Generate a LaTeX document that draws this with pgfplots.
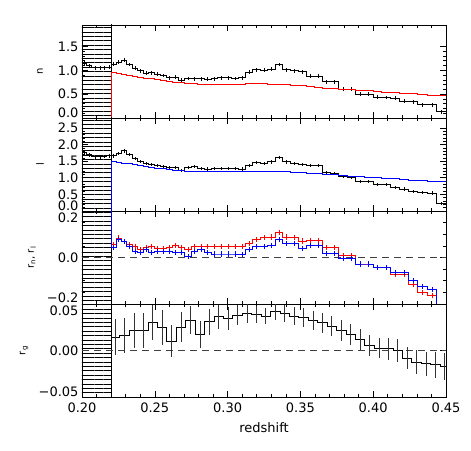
\documentclass[border=0pt]{standalone}
\usepackage{fontspec}
\setmainfont{DejaVu Sans}
\usepackage{pgfplots}
\usepackage{pgfplotstable}
\pgfplotsset{compat=1.18}
\usetikzlibrary{patterns.meta}

% edge tick labels sit a little inside the box, as in the original
\newcommand{\lift}[1]{\raisebox{0pt}[0pt][0pt]{#1}}
\newcommand{\liftmore}[1]{\raisebox{1.5pt}[0pt][0pt]{#1}}
\newcommand{\drop}[1]{\raisebox{-11.5pt}[0pt][0pt]{#1}}

% bins: lo hi | n and its model | l and its model | r_n r_l
\pgfplotstableread{
lo     hi     n    nm    l    lm    rn     rl
0.2000 0.2033 1.15 0     1.76 0     1      1
0.2033 0.2067 1.10 0     1.69 0     1      1
0.2067 0.2110 1.05 0     1.63 0     1      1
0.2110 0.2140 1.05 0     1.63 0     1      1
0.2140 0.2170 1.05 0     1.64 0     1      1
0.2170 0.2200 1.07 0     1.66 0     1      1
0.2200 0.2235 1.13 0.955 1.66 1.48  0.057  0.043
0.2235 0.2271 1.17 0.93  1.73 1.46  0.084  0.079
0.2271 0.2307 1.21 0.91  1.81 1.44  0.070  0.070
0.2307 0.2344 1.12 0.89  1.70 1.42  0.057  0.048
0.2344 0.2382 1.04 0.87  1.58 1.40  0.048  0.026
0.2382 0.2420 0.99 0.85  1.50 1.37  0.033  0.021
0.2420 0.2459 0.94 0.835 1.42 1.34  0.044  0.033
0.2459 0.2499 0.95 0.82  1.40 1.31  0.048  0.021
0.2499 0.2539 0.92 0.80  1.36 1.29  0.040  0.024
0.2539 0.2580 0.89 0.79  1.34 1.27  0.037  0.024
0.2580 0.2622 0.84 0.77  1.31 1.25  0.044  0.026
0.2622 0.2664 0.86 0.75  1.30 1.23  0.053  0.021
0.2664 0.2707 0.79 0.74  1.21 1.21  0.044  0.021
0.2707 0.2751 0.83 0.725 1.31 1.20  0.033  0.004
0.2751 0.2795 0.82 0.715 1.34 1.195 0.048  0.024
0.2795 0.2840 0.82 0.71  1.27 1.19  0.048  0.033
0.2840 0.2886 0.81 0.71  1.26 1.19  0.048  0.022
0.2886 0.2932 0.82 0.71  1.27 1.19  0.048  0.015
0.2932 0.2979 0.84 0.71  1.28 1.19  0.048  0.015
0.2979 0.3027 0.84 0.71  1.28 1.19  0.048  0.015
0.3027 0.3075 0.83 0.71  1.27 1.19  0.048  0.015
0.3075 0.3124 0.84 0.71  1.26 1.195 0.048  0.013
0.3124 0.3174 0.96 0.715 1.36 1.20  0.062  0.033
0.3174 0.3224 1.01 0.715 1.46 1.20  0.079  0.048
0.3224 0.3275 1.00 0.715 1.43 1.20  0.085  0.049
0.3275 0.3327 1.02 0.71  1.48 1.195 0.088  0.053
0.3327 0.3379 1.12 0.705 1.61 1.19  0.107  0.079
0.3379 0.3432 1.01 0.70  1.48 1.18  0.088  0.062
0.3432 0.3486 0.99 0.69  1.43 1.17  0.085  0.060
0.3486 0.3540 0.97 0.675 1.40 1.16  0.071  0.040
0.3540 0.3595 0.88 0.66  1.36 1.14  0.075  0.052
0.3595 0.3651 0.88 0.645 1.38 1.125 0.075  0.052
0.3651 0.3707 0.76 0.63  1.15 1.11  0.043  0.018
0.3707 0.3764 0.76 0.615 1.13 1.09  0.043  0.018
0.3764 0.3822 0.60 0.60  1.03 1.07  0.009  -0.005
0.3822 0.3880 0.60 0.59  1.01 1.055 0.009  -0.005
0.3880 0.3939 0.50 0.58  0.88 1.04  -0.028 -0.028
0.3939 0.3999 0.50 0.57  0.88 1.02  -0.028 -0.028
0.3999 0.4059 0.44 0.555 0.80 1.00  -0.043 -0.043
0.4059 0.4120 0.43 0.54  0.79 0.985 -0.043 -0.043
0.4120 0.4182 0.42 0.53  0.70 0.97  -0.074 -0.064
0.4182 0.4244 0.35 0.52  0.66 0.95  -0.074 -0.064
0.4244 0.4307 0.34 0.505 0.58 0.93  -0.117 -0.100
0.4307 0.4371 0.28 0.495 0.55 0.91  -0.149 -0.124
0.4371 0.4435 0.28 0.48  0.54 0.895 -0.163 -0.139
0.4435 0.4500 0.13 0.465 0.23 0.875 -0.5   -0.5
0.4500 0.4500 0.13 0.465 0.23 0.875 -0.5   -0.5
}\bins

% r_g with its errors
\pgfplotstableread{
lo     hi     v       e
0.2200 0.2260 0.0145  0.019
0.2260 0.2324 0.0163  0.019
0.2324 0.2389 0.0217  0.019
0.2389 0.2454 0.0217  0.019
0.2454 0.2519 0.0298  0.019
0.2519 0.2583 0.0244  0.019
0.2583 0.2648 0.0099  0.017
0.2648 0.2713 0.0253  0.016
0.2713 0.2777 0.0325  0.015
0.2777 0.2842 0.0172  0.014
0.2842 0.2907 0.0307  0.014
0.2907 0.2971 0.0361  0.013
0.2971 0.3036 0.0343  0.012
0.3036 0.3101 0.0379  0.011
0.3101 0.3166 0.0397  0.010
0.3166 0.3230 0.0388  0.009
0.3230 0.3295 0.0370  0.009
0.3295 0.3360 0.0415  0.009
0.3360 0.3424 0.0397  0.009
0.3424 0.3489 0.0370  0.010
0.3489 0.3554 0.0352  0.010
0.3554 0.3618 0.0325  0.010
0.3618 0.3683 0.0298  0.011
0.3683 0.3748 0.0262  0.011
0.3748 0.3813 0.0217  0.011
0.3813 0.3877 0.0172  0.011
0.3877 0.3942 0.0117  0.011
0.3942 0.4007 0.0054  0.011
0.4007 0.4071 0.0027  0.011
0.4071 0.4136 0.0018  0.012
0.4136 0.4201 0.0000  0.012
0.4201 0.4265 -0.0081 0.012
0.4265 0.4330 -0.0126 0.013
0.4330 0.4395 -0.0144 0.013
0.4395 0.4460 -0.0154 0.014
0.4460 0.4524 -0.0172 0.015
0.4524 0.4524 -0.0172 0.015
}\rg

\pgfplotsset{
  panel/.style={
    scale only axis, width=364pt, height=93pt,
    xmin=0.2, xmax=0.45,
    xtick={0.20,0.25,0.30,0.35,0.40,0.45},
    minor x tick num=4,
    xticklabels={},
    scaled y ticks=false,
    tick align=inside,
    major tick length=6pt, minor tick length=3pt,
    every tick/.style={black, line width=0.6pt},
    axis line style={line width=0.9pt},
    tick label style={font=\fontsize{13}{15}\selectfont},
    xticklabel style={yshift=-2pt},
    label style={font=\fontsize{13}{15}\selectfont},
    xlabel style={yshift=-3pt},
    every axis y label/.style={rotate=90, anchor=center},
    clip=true,
  },
  hatch/.style={draw=none, pattern={Lines[angle=0,distance=4.4pt,line width=0.8pt]}, pattern color=black, forget plot},
  hist/.style={const plot mark left, line width=0.9pt, no marks},
  edge/.style={black, line width=0.7pt, no marks},
  bars/.style={draw=none, no marks, error bars/y dir=both, error bars/error mark=none,
    error bars/error bar style={draw=#1, line width=0.7pt}},
}

\begin{document}
\begin{tikzpicture}
\path[use as bounding box] (-82pt,-53pt) rectangle (389pt,397pt);

% n
\begin{axis}[panel, at={(0,279pt)},
    ymin=0, ymax=1.95,
    ytick={0,0.5,1,1.5}, yticklabels={\lift{0.0},0.5,1.0,1.5},
    minor y tick num=4,
    ylabel={n}, ylabel style={at={(axis description cs:-0.115,0.5)}}]
\addplot[hatch] coordinates {(0.2,-1) (0.22,-1) (0.22,5) (0.2,5)} -- cycle;
\addplot[edge] coordinates {(0.22,-1) (0.22,5)};
\addplot[hist, black] table[x=lo, y=n] {\bins};
\addplot[bars=black, restrict x to domain=0.2:0.4499, error bars/y fixed=0.04]
    table[x expr={0.5*(\thisrow{lo}+\thisrow{hi})}, y=n] {\bins};
\addplot[hist, red] table[x=lo, y=nm] {\bins};
\end{axis}

% l
\begin{axis}[panel, at={(0,186pt)},
    ymin=0, ymax=2.8,
    ytick={0,0.5,1,1.5,2,2.5}, yticklabels={\lift{0.0},0.5,1.0,1.5,2.0,2.5},
    minor y tick num=4,
    ylabel={l}, ylabel style={at={(axis description cs:-0.115,0.5)}}]
\addplot[hatch] coordinates {(0.2,-1) (0.22,-1) (0.22,5) (0.2,5)} -- cycle;
\addplot[edge] coordinates {(0.22,-1) (0.22,5)};
\addplot[hist, black] table[x=lo, y=l] {\bins};
\addplot[bars=black, restrict x to domain=0.2:0.4499, error bars/y fixed=0.05]
    table[x expr={0.5*(\thisrow{lo}+\thisrow{hi})}, y=l] {\bins};
\addplot[hist, blue] table[x=lo, y=lm] {\bins};
\end{axis}

% r_n, r_l
\begin{axis}[panel, at={(0,93pt)},
    ymin=-0.2, ymax=0.2,
    ytick={-0.2,0,0.2}, yticklabels={\liftmore{−0.2},0.0,\drop{0.2}},
    minor y tick num=3,
    ylabel={r\textsubscript{n}, r\textsubscript{l}}, ylabel style={at={(axis description cs:-0.137,0.5)}}]
\addplot[hatch] coordinates {(0.2,-1) (0.22,-1) (0.22,1) (0.2,1)} -- cycle;
\addplot[edge] coordinates {(0.22,-1) (0.22,1)};
\addplot[black!75, line width=0.9pt, dash pattern=on 7pt off 5pt] coordinates {(0.2,0) (0.45,0)};
\addplot[hist, red] table[x=lo, y=rn] {\bins};
\addplot[bars=red, restrict x to domain=0.22:0.4499, error bars/y fixed=0.011]
    table[x expr={0.5*(\thisrow{lo}+\thisrow{hi})}, y=rn] {\bins};
\addplot[hist, blue] table[x=lo, y=rl] {\bins};
\addplot[bars=blue, restrict x to domain=0.22:0.4499, error bars/y fixed=0.011]
    table[x expr={0.5*(\thisrow{lo}+\thisrow{hi})}, y=rl] {\bins};
\end{axis}

% r_g
\begin{axis}[panel, at={(0,0pt)},
    ymin=-0.05, ymax=0.05,
    ytick={-0.05,0,0.05}, yticklabels={\lift{−0.05},0.00,\drop{0.05}},
    minor y tick num=0,
    xticklabels={0.20,0.25,0.30,0.35,0.40,0.45},
    xlabel={redshift},
    ylabel={r\textsubscript{g}}, ylabel style={at={(axis description cs:-0.159,0.5)}}]
\addplot[hatch] coordinates {(0.2,-1) (0.22,-1) (0.22,1) (0.2,1)} -- cycle;
\addplot[edge] coordinates {(0.22,-1) (0.22,1)};
\addplot[black!75, line width=0.9pt, dash pattern=on 7pt off 5pt] coordinates {(0.2,0) (0.45,0)};
\addplot[hist, black] table[x=lo, y=v] {\rg};
\addplot[bars=black!80, restrict x to domain=0.2:0.451, error bars/y explicit]
    table[x expr={0.5*(\thisrow{lo}+\thisrow{hi})}, y=v, y error=e] {\rg};
\end{axis}
\end{tikzpicture}
\end{document}
